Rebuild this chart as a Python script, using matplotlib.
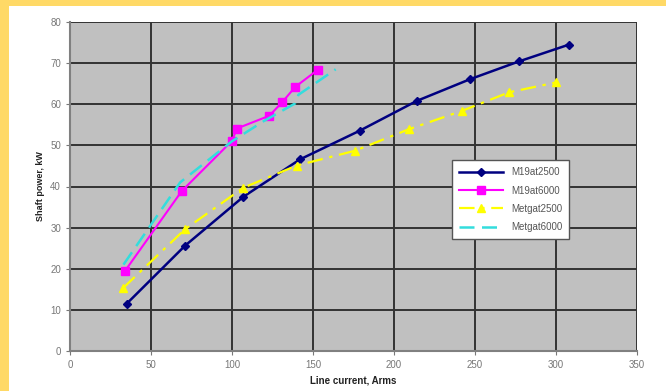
import matplotlib
matplotlib.use("Agg")
import matplotlib.pyplot as plt
from matplotlib.patches import Rectangle

plt.rcParams["font.family"] = ["Liberation Sans", "DejaVu Sans"]

# Data
m19_2500_x = [35, 71, 107, 142, 179, 214, 247, 277, 308]
m19_2500_y = [11.5, 25.6, 37.5, 46.6, 53.6, 60.8, 66.1, 70.4, 74.5]
m19_6000_x = [34, 69, 100, 103, 123, 131, 139, 153]
m19_6000_y = [19.5, 38.9, 51.1, 54.1, 57.2, 60.5, 64.2, 68.4]
met_2500_x = [33, 71, 107, 140, 176, 209, 242, 271, 300]
met_2500_y = [15.4, 29.6, 39.7, 45.1, 48.7, 53.9, 58.4, 62.9, 65.3]
met_6000_x = [33, 68, 100, 120, 139, 141, 164]
met_6000_y = [21.0, 41.0, 51.0, 56.0, 60.2, 62.3, 68.5]
x_ticks = [0, 50, 100, 150, 200, 250, 300, 350]
y_ticks = [0, 10, 20, 30, 40, 50, 60, 70, 80]

fig = plt.figure(figsize=(6.66, 3.91), dpi=100)
fig.patch.set_facecolor("white")
# yellow border on left and top
fig.patches.append(Rectangle((0, 0), 8.5 / 666, 1, transform=fig.transFigure,
                             facecolor="#FFD966", edgecolor="none", zorder=0))
fig.patches.append(Rectangle((0, 1 - 6 / 391), 1, 6 / 391, transform=fig.transFigure,
                             facecolor="#FFD966", edgecolor="none", zorder=0))

ax = fig.add_axes([70 / 666, (391 - 351) / 391, (637 - 70) / 666, (351 - 22) / 391])
ax.set_facecolor("#C0C0C0")
ax.set_xlim(0, 350)
ax.set_ylim(0, 80)
ax.set_xticks(x_ticks)
ax.set_yticks(y_ticks)
ax.grid(True, color="#333333", linewidth=1.4)
ax.set_axisbelow(True)
for s in ["top", "right"]:
    ax.spines[s].set_visible(False)
ax.spines["left"].set_color("#808080")
ax.spines["left"].set_linewidth(1.5)
ax.spines["bottom"].set_color("#808080")
ax.spines["bottom"].set_linewidth(1.5)
ax.tick_params(axis="both", colors="#777777", labelsize=7, length=3, labelcolor="#777777")

ax.plot(m19_2500_x, m19_2500_y, color="#000080", linewidth=1.8, marker="D",
        markersize=4.5, label="M19at2500", zorder=3)
ax.plot(m19_6000_x, m19_6000_y, color="#FF00FF", linewidth=1.5, marker="s",
        markersize=5.5, label="M19at6000", zorder=3)
ax.plot(met_2500_x, met_2500_y, color="#FFFF00", linewidth=1.6, linestyle=(0, (7, 3, 1.5, 3)),
        marker="^", markersize=6, label="Metgat2500", zorder=3)
ax.plot(met_6000_x, met_6000_y, color="#33DDDD", linewidth=1.8, linestyle=(0, (6, 3)),
        label="Metgat6000", zorder=3)

ax.set_xlabel("Line current, Arms", fontsize=7, fontweight="bold", color="#222222", labelpad=4)
ax.set_ylabel("Shaft power, kW", fontsize=6.5, fontweight="bold", color="#222222", labelpad=4)

leg = ax.legend(loc="upper left", bbox_to_anchor=((452 - 70) / 567, (351 - 160) / 329),
                fontsize=7, frameon=True, fancybox=False, framealpha=1, edgecolor="#555555",
                borderpad=0.75, labelspacing=0.85, handlelength=4.5, borderaxespad=0)
for t in leg.get_texts():
    t.set_color("#555555")

fig.savefig("out.png", dpi=100)
